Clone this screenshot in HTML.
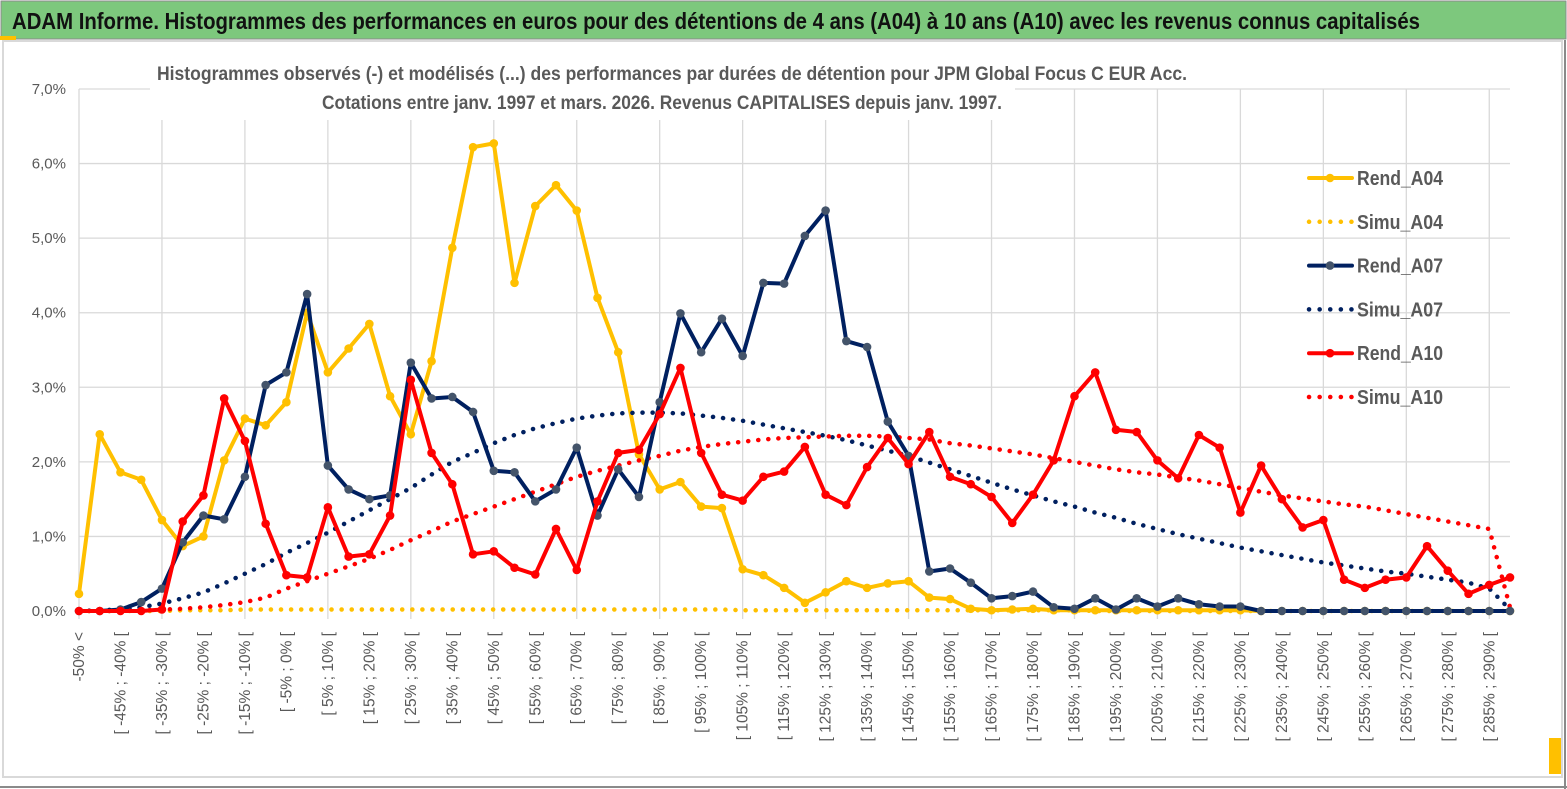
<!DOCTYPE html>
<html><head><meta charset="utf-8">
<style>
html,body{margin:0;padding:0;background:#fff;}
svg{display:block;}
text{font-family:"Liberation Sans Narrow","Liberation Sans",sans-serif;}
</style></head>
<body>
<svg id="chart" width="1567" height="789" viewBox="0 0 1567 789" xmlns="http://www.w3.org/2000/svg">
  <rect x="0" y="0" width="1567" height="789" fill="#fff"/>
  <rect x="1" y="1" width="1565" height="38" fill="#7dc87d" stroke="#8a8a8a" stroke-width="1"/>
  <rect x="0" y="36" width="16" height="4" fill="#ffc000"/>
  <text x="12" y="29" font-size="23" font-weight="bold" fill="#111" textLength="1408" lengthAdjust="spacingAndGlyphs">ADAM Informe. Histogrammes des performances en euros pour des détentions de 4 ans (A04) à 10 ans (A10) avec les revenus connus capitalisés</text>
  <rect x="3" y="41" width="1559" height="736" fill="none" stroke="#d9d9d9" stroke-width="2"/>
  <line x1="0" y1="787" x2="1567" y2="787" stroke="#8a8a8a" stroke-width="2"/>
  <line x1="1565" y1="40" x2="1565" y2="789" stroke="#8a8a8a" stroke-width="2"/>
  <rect x="1549" y="738" width="12" height="36" fill="#ffc000"/>
  <rect x="1549" y="766" width="12" height="8" fill="#ffc000"/>
  <g id="grid"></g>
  <g id="yaxis"></g>
  <g id="xaxis"></g>
  <rect x="150" y="58" width="865" height="62" fill="#fff"/>
  <text x="672" y="80" font-size="19" font-weight="bold" fill="#595959" text-anchor="middle" textLength="1030" lengthAdjust="spacingAndGlyphs">Histogrammes observés (-) et modélisés (...) des performances par durées de détention pour JPM Global Focus C EUR Acc.</text>
  <text x="662" y="109" font-size="19" font-weight="bold" fill="#595959" text-anchor="middle" textLength="680" lengthAdjust="spacingAndGlyphs">Cotations entre janv. 1997 et mars. 2026. Revenus CAPITALISES depuis janv. 1997.</text>
  <g id="series"></g>
  <g id="legend"></g>
</svg>
<script>
const rendA04 = [0.23,2.37,1.86,1.76,1.22,0.87,1.0,2.02,2.58,2.49,2.8,4.0,3.2,3.52,3.85,2.88,2.37,3.35,4.87,6.22,6.27,4.4,5.43,5.71,5.37,4.2,3.47,2.1,1.63,1.73,1.4,1.38,0.56,0.48,0.31,0.11,0.25,0.4,0.31,0.37,0.4,0.18,0.16,0.03,0.01,0.02,0.03,0.01,0.01,0.01,0.01,0.01,0.01,0.01,0.01,0.01,0.01,0,0,0,0,0,0,0,0,0,0,0,0,0];
const simuA04 = [0,0,0,0,0,0.01,0.01,0.01,0.02,0.02,0.02,0.02,0.02,0.02,0.02,0.02,0.02,0.02,0.02,0.02,0.02,0.02,0.02,0.02,0.02,0.02,0.02,0.02,0.02,0.02,0.02,0.02,0.01,0.01,0.01,0.01,0.01,0.01,0.01,0.01,0.01,0.01,0.01,0.01,0.01,0.01,0.01,0.01,0.01,0,0,0,0,0,0,0,0,0,0,0,0,0,0,0,0,0,0,0,0,0];
const rendA07 = [0,0,0.02,0.12,0.3,0.92,1.28,1.23,1.8,3.03,3.2,4.25,1.95,1.63,1.5,1.55,3.33,2.85,2.87,2.67,1.88,1.86,1.47,1.63,2.19,1.28,1.9,1.53,2.8,3.99,3.47,3.92,3.42,4.4,4.39,5.03,5.37,3.62,3.54,2.54,2.08,0.53,0.57,0.38,0.17,0.2,0.26,0.05,0.03,0.17,0.02,0.17,0.06,0.17,0.09,0.06,0.06,0,0,0,0,0,0,0,0,0,0,0,0,0];
const simuA07 = [0,0.01,0.02,0.05,0.1,0.17,0.25,0.37,0.5,0.63,0.78,0.91,1.05,1.2,1.35,1.5,1.65,1.83,2.0,2.12,2.25,2.36,2.45,2.52,2.58,2.62,2.65,2.66,2.66,2.65,2.62,2.59,2.55,2.5,2.45,2.4,2.35,2.29,2.22,2.15,2.08,1.99,1.9,1.81,1.72,1.63,1.55,1.47,1.4,1.32,1.25,1.17,1.1,1.03,0.97,0.91,0.85,0.8,0.75,0.7,0.65,0.61,0.57,0.53,0.5,0.46,0.42,0.38,0.3,0.02];
const rendA10 = [0,0,0,0,0.02,1.2,1.55,2.85,2.28,1.17,0.48,0.45,1.39,0.73,0.76,1.28,3.1,2.12,1.7,0.76,0.8,0.58,0.49,1.1,0.55,1.47,2.12,2.16,2.64,3.26,2.12,1.56,1.48,1.8,1.87,2.2,1.56,1.42,1.93,2.32,1.97,2.4,1.8,1.7,1.53,1.18,1.56,2.02,2.88,3.2,2.43,2.4,2.02,1.78,2.36,2.19,1.32,1.95,1.5,1.12,1.22,0.42,0.31,0.42,0.45,0.87,0.54,0.23,0.35,0.45];
const simuA10 = [0,0,0,0.01,0.02,0.03,0.05,0.08,0.12,0.18,0.3,0.4,0.5,0.6,0.7,0.82,0.95,1.07,1.2,1.3,1.4,1.5,1.6,1.7,1.8,1.88,1.95,2.02,2.08,2.15,2.2,2.24,2.27,2.3,2.32,2.33,2.34,2.35,2.35,2.34,2.32,2.3,2.25,2.22,2.18,2.14,2.1,2.05,2.0,1.95,1.9,1.86,1.83,1.79,1.75,1.7,1.65,1.6,1.55,1.51,1.47,1.43,1.4,1.35,1.3,1.25,1.2,1.15,1.1,0.05];
const yTicks = ["0,0%","1,0%","2,0%","3,0%","4,0%","5,0%","6,0%","7,0%"];
const legendNames = ["Rend_A04","Simu_A04","Rend_A07","Simu_A07","Rend_A10","Simu_A10"];

const NS="http://www.w3.org/2000/svg";
const N = rendA04.length;
const categories = [];
categories.push("-50% <");
for(let k=1;k<N;k++){const a=-55+5*k;categories.push("[ "+a+"% ; "+(a+5)+"% [");}
const X0=79, X1=1510, Y0=611, YTOP=89;
function xs(i){return X0+(X1-X0)*i/(N-1);}
function ys(v){return Y0-(Y0-YTOP)*v/7;}
function mk(tag,attrs,parent){const e=document.createElementNS(NS,tag);for(const k in attrs)e.setAttribute(k,attrs[k]);parent.appendChild(e);return e;}

const grid=document.getElementById('grid');
for(let t=1;t<=7;t++){
  const l=mk('line',{x1:X0,x2:X1,y1:ys(t),y2:ys(t),stroke:'#d9d9d9','stroke-width':1.3},grid);
  
  
}
for(let i=0;i<N;i+=4){
  const l=mk('line',{x1:xs(i),x2:xs(i),y1:ys(7),y2:Y0+8,stroke:'#d9d9d9','stroke-width':1.3},grid);
  
  
}
const yax=document.getElementById('yaxis');
yTicks.forEach((s,t)=>{
  const e=mk('text',{x:66,y:ys(t)+5,'font-size':15,fill:'#595959','text-anchor':'end'},yax);
  e.textContent=s;
  
  
});
const xax=document.getElementById('xaxis');
categories.forEach((c,i)=>{
  if(i%2) return;
  const x=xs(i)+5, y=632;
  const e=mk('text',{x:x,y:y,'font-size':15.5,fill:'#595959','text-anchor':'end',transform:'rotate(-90 '+x+' '+y+')'},xax);
  e.textContent=c;
  
  
});

const ser=document.getElementById('series');
function pts(arr){return arr.map((v,i)=>xs(i).toFixed(1)+','+ys(v).toFixed(1)).join(' ');}
function dotted(arr,color,name){
  const p=mk('polyline',{points:pts(arr),fill:'none',stroke:color,'stroke-width':4.5,'stroke-linecap':'round','stroke-dasharray':'0.1 10'},ser);
  
  
}
function solid(arr,color,mcolor,name){
  const p=mk('polyline',{points:pts(arr),fill:'none',stroke:color,'stroke-width':4,'stroke-linejoin':'round'},ser);
  
  
  arr.forEach((v,i)=>{
    const c=mk('circle',{cx:xs(i),cy:ys(v),r:4.3,fill:mcolor},ser);
    
    
  });
}
dotted(simuA04,'#ffc000','simu-a04-line');
solid(rendA04,'#ffc000','#ffc000','rend-a04-line');
dotted(simuA07,'#002060','simu-a07-line');
dotted(simuA10,'#ff0000','simu-a10-line');
solid(rendA07,'#002060','#44546a','rend-a07-line');
solid(rendA10,'#ff0000','#ff0000','rend-a10-line');

const leg=document.getElementById('legend');
const lcol=['#ffc000','#ffc000','#002060','#002060','#ff0000','#ff0000'];
const lmk=['#ffc000',null,'#44546a',null,'#ff0000',null];
legendNames.forEach((n,k)=>{
  const y=178+k*43.8;
  const g=mk('g',{},leg);
  
  
  if(lmk[k]){
    mk('line',{x1:1309,x2:1352,y1:y,y2:y,stroke:lcol[k],'stroke-width':4,'stroke-linecap':'round'},g);
    mk('circle',{cx:1330,cy:y,r:4.3,fill:lmk[k]},g);
  } else {
    mk('line',{x1:1309,x2:1352,y1:y,y2:y,stroke:lcol[k],'stroke-width':4.5,'stroke-linecap':'round','stroke-dasharray':'0.1 10.5'},g);
  }
  const t=mk('text',{x:1357,y:y+7,'font-size':20,'font-weight':'bold',fill:'#595959',textLength:86,lengthAdjust:'spacingAndGlyphs'},g);
  t.textContent=n;
});
</script>
</body></html>
